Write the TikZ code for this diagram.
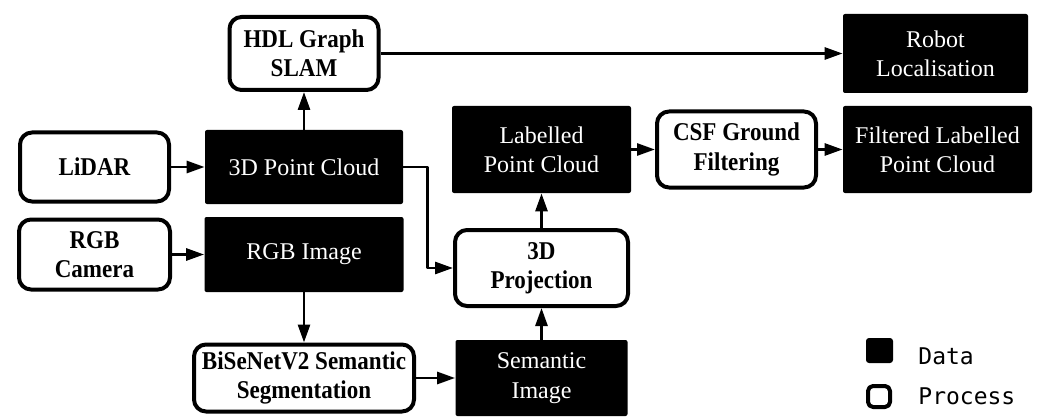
\documentclass[tikz,border=0pt]{standalone}
\usepackage{fontspec}
\setmainfont[BoldFeatures={FakeStretch=0.9}]{Liberation Serif}
\newfontfamily\legendfont{DejaVu Sans Mono}
\usetikzlibrary{arrows.meta}
\begin{document}
\begin{tikzpicture}[x=0.5pt,y=-0.5pt,>={Triangle[length=9pt,width=6pt]},line join=round,
	font=\fontsize{12}{14.7}\selectfont,
	data/.style={fill=black,text=white,rounded corners=1pt,align=center,inner sep=0pt},
	proc/.style={draw,line width=2pt,rounded corners=6pt,fill=white,align=center,inner sep=0pt,font=\fontsize{12.8}{14.7}\selectfont\bfseries},
	arr/.style={->,line width=1.4pt},
	legend/.style={anchor=base west,inner sep=0pt,font=\legendfont\fontsize{11.5}{13}\selectfont}]
	\useasboundingbox (0,0) rectangle (1038,417);
	% khoi du lieu
	\node[data,minimum width=99pt,minimum height=37pt] (pcd) at (304,167) {3D Point Cloud};
	\node[data,minimum width=99.5pt,minimum height=37.5pt] (rgb) at (304,254.5) {RGB Image};
	\node[data,minimum width=92.5pt,minimum height=39.5pt] (robot) at (935.5,53.5) {Robot\\Localisation};
	\node[data,minimum width=89.5pt,minimum height=43.5pt] (labelled) at (541.5,149.5) {Labelled\\Point Cloud};
	\node[data,minimum width=94.5pt,minimum height=43.5pt] (filtered) at (937.5,149.5) {Filtered Labelled\\Point Cloud};
	\node[data,minimum width=86pt,minimum height=38pt] (sem) at (541.5,378) {Semantic\\Image};
	% khoi xu ly
	\node[proc,minimum width=74.5pt,minimum height=36.5pt] (hdl) at (304,53.5) {HDL Graph\\SLAM};
	\node[proc,minimum width=74.5pt,minimum height=34.5pt] (lidar) at (94.5,167) {LiDAR};
	\node[proc,minimum width=75.5pt,minimum height=35pt] (cam) at (94.5,254.5) {RGB\\Camera};
	\node[proc,minimum width=79.5pt,minimum height=38pt] (csf) at (736.5,149.5) {CSF Ground\\Filtering};
	\node[proc,minimum width=86.5pt,minimum height=38pt] (proj) at (541.5,268) {3D\\Projection};
	\node[proc,minimum width=110pt,minimum height=33.5pt] (bise) at (304,378) {BiSeNetV2 Semantic\\Segmentation};
	% mui ten
	\draw[arr] (lidar)--(pcd);
	\draw[arr] (pcd)--(hdl);
	\draw[arr] (hdl)--(robot);
	\draw[arr] (cam)--(rgb);
	\draw[arr] (rgb)--(bise);
	\draw[arr] (bise)--(sem);
	\draw[arr] (sem)--(proj);
	\draw[arr] (proj)--(labelled);
	\draw[arr] (labelled)--(csf);
	\draw[arr] (csf)--(filtered);
	\draw[arr] (pcd.east)--++(24,0) |- (proj.west);
	% chu thich
	\node[fill=black,rounded corners=1.5pt,minimum width=13.5pt,minimum height=12.5pt,inner sep=0pt] (keydata) at (879.5,350.5) {};
	\node[draw,line width=2pt,rounded corners=2.5pt,minimum width=11pt,minimum height=10.5pt,inner sep=0pt] (keyproc) at (879,396.5) {};
	\node[legend] (txtdata) at (918,364) {Data};
	\node[legend] (txtproc) at (918,404) {Process};
\end{tikzpicture}
\end{document}
